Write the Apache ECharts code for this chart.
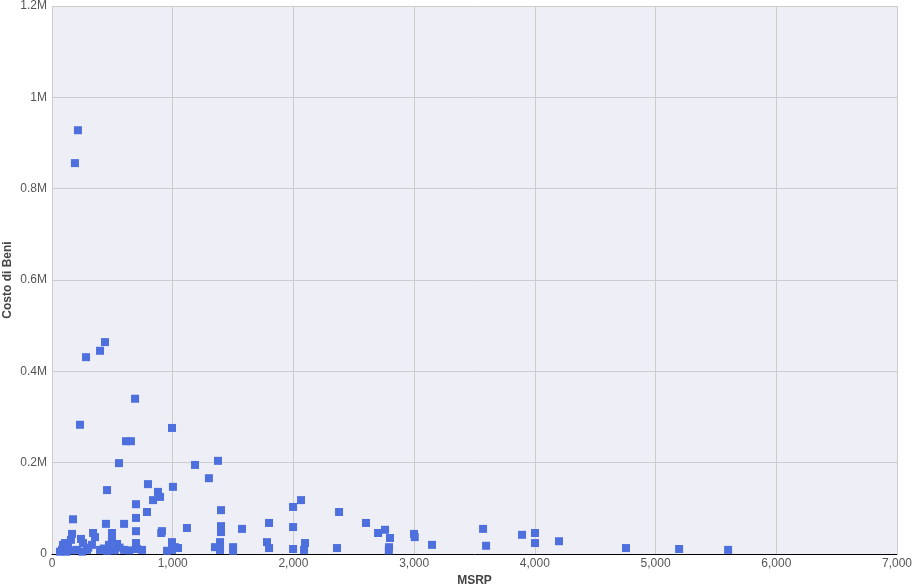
<!DOCTYPE html>
<html>
<head>
<meta charset="utf-8">
<script src="https://cdn.jsdelivr.net/npm/echarts@6/dist/echarts.min.js"></script>
<style>
html,body{margin:0;padding:0;background:#fff;}
#main{width:915px;height:587px;}
</style>
</head>
<body>
<div id="main"></div>
<script>
// 数据 (MSRP, Costo di Beni)
var msrp = [
	215, 190, 232, 282, 398, 439, 688, 456, 555, 613, 654, 994, 1002, 795, 837, 878, 895, 787, 696, 696,
	1185, 1300, 1375, 1400, 1118, 905, 911, 1400, 1400, 1574, 1500, 1500, 1798, 1781, 1798, 1997, 2063, 1997, 1997, 2096,
	2088, 2378, 2361, 2601, 2701, 2759, 2800, 2792, 2790, 2999, 3005, 3148, 3571, 3596, 3894, 4001, 4001, 4200, 4755, 5195,
	5601, 174, 447, 597, 340, 356, 497, 497, 166, 157, 133, 91, 240, 257, 331, 398, 472, 539, 597, 696,
	696, 704, 746, 83, 207, 290, 456, 994, 1019, 953, 1044, 1392, 1392, 1350, 994, 66, 108, 120, 160, 250,
	300, 430, 520, 640, 560
];
var costo = [
	928, 856, 283, 431, 445, 464, 340, 140, 199, 247, 247, 276, 147, 153, 118, 136, 125, 92, 109, 79,
	195, 166, 204, 96, 57, 46, 50, 61, 48, 55, 15, 7, 68, 26, 13, 103, 118, 59, 11, 24,
	9, 92, 13, 68, 46, 53, 35, 15, 8, 44, 37, 20, 55, 18, 42, 46, 24, 28, 13, 11,
	9, 76, 66, 66, 46, 37, 46, 33, 44, 31, 18, 20, 33, 24, 20, 9, 20, 22, 9, 50,
	24, 11, 9, 9, 9, 9, 7, 26, 15, 7, 13, 26, 9, 15, 9, 5, 24, 5, 8, 5,
	14, 12, 8, 8, 14
];
var xTicks = [0, 1000, 2000, 3000, 4000, 5000, 6000, 7000];
var yTicks = [0, 200000, 400000, 600000, 800000, 1000000, 1200000];

var points = msrp.map(function(x, i){ return [x, costo[i] * 1000]; });

var myChart = echarts.init(document.getElementById('main'));
var option = {
	animation: false,
	grid: {
		left: 52, right: 18, top: 6, bottom: 33,
		containLabel: false,
		outerBoundsMode: 'none',
		show: true,
		backgroundColor: '#eeeef6',
		borderWidth: 0
	},
	xAxis: {
		type: 'value',
		min: xTicks[0],
		max: xTicks[xTicks.length - 1],
		interval: 1000,
		name: 'MSRP',
		nameLocation: 'middle',
		nameGap: 21,
		nameMoveOverlap: false,
		nameTextStyle: { fontFamily: 'Arial', fontSize: 12, fontWeight: 'bold', color: '#444' },
		axisLine: { show: true, lineStyle: { color: '#000', width: 1 } },
		axisTick: { show: false },
		axisLabel: {
			fontFamily: 'Arial', fontSize: 12, color: '#555', margin: 4,
			formatter: function(v){ return v.toLocaleString('en-US'); }
		},
		splitLine: { show: true, lineStyle: { color: '#cccccc', width: 1 } }
	},
	yAxis: {
		type: 'value',
		min: yTicks[0],
		max: yTicks[yTicks.length - 1],
		interval: 200000,
		name: 'Costo di Beni',
		nameLocation: 'middle',
		nameGap: 38,
		nameRotate: 90,
		nameMoveOverlap: false,
		nameTextStyle: { fontFamily: 'Arial', fontSize: 12, fontWeight: 'bold', color: '#444' },
		axisLine: { show: false },
		axisTick: { show: false },
		axisLabel: {
			fontFamily: 'Arial', fontSize: 12, color: '#555', margin: 5,
			formatter: function(v){ return v === 0 ? '0' : (v / 1000000) + 'M'; }
		},
		splitLine: { show: true, lineStyle: { color: '#cccccc', width: 1 } }
	},
	series: [{
		type: 'scatter',
		symbol: 'rect',
		symbolSize: 8,
		itemStyle: { color: '#4e6fde', opacity: 1 },
		data: points
	}]
};
myChart.setOption(option);
</script>
</body>
</html>
